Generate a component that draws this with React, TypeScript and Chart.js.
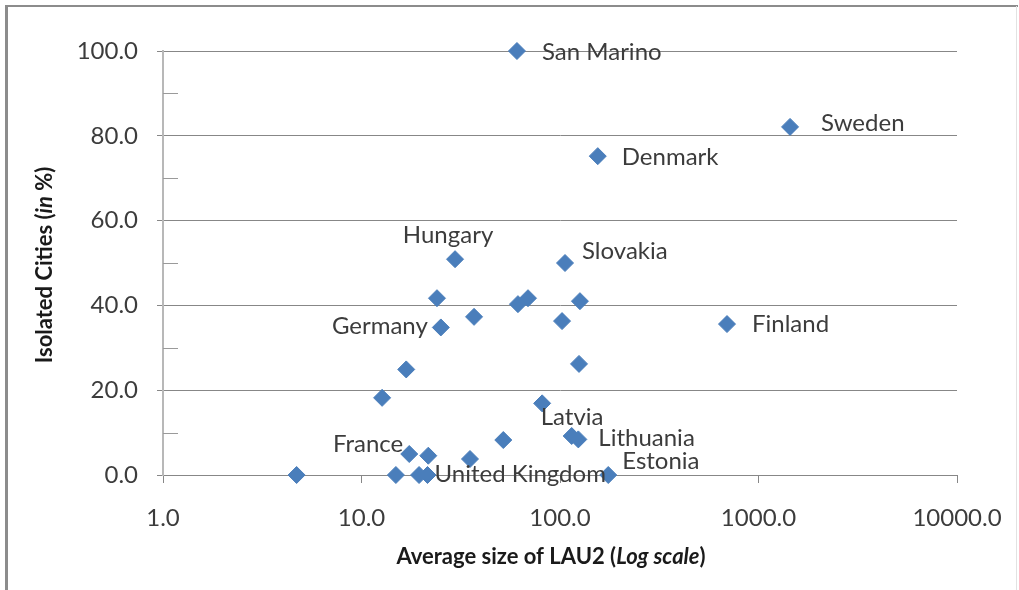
import React, { useEffect, useRef } from "react";
import { Chart, registerables } from "chart.js";

Chart.register(...registerables);

// ---------- data ----------
const countryNames = [
  "San Marino", "Sweden", "Denmark", "Hungary", "Slovakia",
  "", "", "", "", "Germany",
  "", "", "Finland", "", "",
  "", "Latvia", "France", "", "",
  "", "", "Lithuania", "", "",
  "", "United Kingdom", "Estonia",
];
const lau2Size = [
  60.7, 1442, 155, 29.6, 106,
  24, 61.4, 69, 126, 25.1,
  36.9, 102.4, 694, 16.8, 124.7,
  12.7, 81.3, 17.4, 21.7, 35.2,
  51.8, 114.5, 123.7, 4.71, 14.9,
  19.5, 21.5, 175,
];
const isolatedShare = [
  100, 82.1, 75.2, 50.9, 50.0,
  41.7, 40.3, 41.7, 41.0, 34.8,
  37.3, 36.3, 35.6, 24.9, 26.2,
  18.2, 16.9, 4.95, 4.55, 3.77,
  8.25, 9.2, 8.4, 0, 0,
  0, 0, 0,
];
const xTickValues = [1, 10, 100, 1000, 10000];
const yMinorTickValues = [10, 30, 50, 70, 90];
const xTitleParts = [
  { text: "Average size of LAU2 (", italic: false },
  { text: "Log scale", italic: true },
  { text: ")", italic: false },
];
const yTitleParts = [
  { text: "Isolated Cities (", italic: false },
  { text: "in", italic: true },
  { text: " %)", italic: false },
];

// ---------- styles ----------
const FONT = "Lato";
const TEXT_COLOR = "#3c3c3c";
const GRID_COLOR = "#878787";
const MARKER_COLOR = "#4a7ebb";

const labelPlacement: Record<string, { dx: number; dy: number; align: CanvasTextAlign }> = {
  "San Marino": { dx: 25, dy: 1, align: "left" },
  Sweden: { dx: 31, dy: -4, align: "left" },
  Denmark: { dx: 24, dy: 1, align: "left" },
  Hungary: { dx: -7, dy: -24, align: "center" },
  Slovakia: { dx: 17, dy: -12, align: "left" },
  Germany: { dx: -13, dy: -1, align: "right" },
  Finland: { dx: 25, dy: 0, align: "left" },
  Latvia: { dx: 30, dy: 14, align: "center" },
  France: { dx: -6, dy: -10, align: "right" },
  Lithuania: { dx: 20, dy: -1, align: "left" },
  Estonia: { dx: 14, dy: -14, align: "left" },
  "United Kingdom": { dx: 7, dy: -1, align: "left" },
};

const framePlugin = {
  id: "frame",
  beforeDraw(chart: any) {
    const ctx = chart.ctx;
    ctx.save();
    ctx.fillStyle = "#ffffff";
    ctx.fillRect(0, 0, chart.width, chart.height);
    ctx.strokeStyle = "#8c8c8c";
    ctx.lineWidth = 3;
    ctx.beginPath();
    ctx.moveTo(6.5, 5);
    ctx.lineTo(6.5, chart.height);
    ctx.stroke();
    ctx.lineWidth = 2;
    ctx.beginPath();
    ctx.moveTo(5, 6);
    ctx.lineTo(1018, 6);
    ctx.stroke();
    ctx.strokeStyle = "#e2e2e2";
    ctx.lineWidth = 1;
    ctx.beginPath();
    ctx.moveTo(1016.5, 6);
    ctx.lineTo(1016.5, chart.height);
    ctx.stroke();
    ctx.restore();
  },
};

const minorTickPlugin = {
  id: "minorTicks",
  afterDraw(chart: any) {
    const ctx = chart.ctx;
    const y = chart.scales.y;
    const left = chart.chartArea.left;
    ctx.save();
    ctx.strokeStyle = "#9a9a9a";
    ctx.lineWidth = 1;
    yMinorTickValues.forEach((v) => {
      const py = Math.round(y.getPixelForValue(v)) + 0.5;
      ctx.beginPath();
      ctx.moveTo(left, py);
      ctx.lineTo(left + 15, py);
      ctx.stroke();
    });
    ctx.restore();
  },
};

const dataLabelPlugin = {
  id: "dataLabels",
  afterDatasetsDraw(chart: any) {
    const ctx = chart.ctx;
    const meta = chart.getDatasetMeta(0);
    ctx.save();
    ctx.font = `24px ${FONT}`;
    ctx.fillStyle = TEXT_COLOR;
    ctx.textBaseline = "middle";
    countryNames.forEach((name, i) => {
      if (!name) return;
      const p = labelPlacement[name];
      const el = meta.data[i];
      if (!p || !el) return;
      ctx.textAlign = p.align;
      ctx.fillText(name, el.x + p.dx, el.y + p.dy);
    });
    ctx.restore();
  },
};

function drawParts(ctx: CanvasRenderingContext2D, parts: { text: string; italic: boolean }[], cx: number, cy: number) {
  const fontFor = (italic: boolean) => `${italic ? "italic " : ""}bold 22px ${FONT}`;
  let total = 0;
  const widths = parts.map((p) => {
    ctx.font = fontFor(p.italic);
    const w = ctx.measureText(p.text).width;
    total += w;
    return w;
  });
  let x = cx - total / 2;
  ctx.textAlign = "left";
  ctx.textBaseline = "middle";
  parts.forEach((p, i) => {
    ctx.font = fontFor(p.italic);
    ctx.fillText(p.text, x, cy);
    x += widths[i];
  });
}

const axisTitlePlugin = {
  id: "axisTitles",
  afterDraw(chart: any) {
    const ctx = chart.ctx;
    ctx.save();
    ctx.fillStyle = "#1a1a1a";
    drawParts(ctx, xTitleParts, 551, 557);
    ctx.translate(45, 265);
    ctx.rotate(-Math.PI / 2);
    drawParts(ctx, yTitleParts, 0, 0);
    ctx.restore();
  },
};

export default function App() {
  const canvasRef = useRef<HTMLCanvasElement | null>(null);

  useEffect(() => {
    if (!canvasRef.current) return;
    Chart.defaults.font.family = FONT;
    const points = lau2Size.map((x, i) => ({ x, y: isolatedShare[i] }));
    const chart = new Chart(canvasRef.current, {
      type: "scatter",
      data: {
        datasets: [
          {
            data: points,
            pointStyle: "rectRot",
            pointRadius: 8.5,
            pointHoverRadius: 8.5,
            backgroundColor: MARKER_COLOR,
            borderColor: MARKER_COLOR,
            borderWidth: 1,
            clip: false,
          },
        ],
      },
      options: {
        responsive: false,
        animation: false,
        events: [],
        layout: { padding: { left: 0, right: 62, top: 51, bottom: 0 } },
        plugins: {
          legend: { display: false },
          tooltip: { enabled: false },
        },
        scales: {
          x: {
            type: "logarithmic",
            min: 1,
            max: 10000,
            afterBuildTicks: (scale: any) => {
              scale.ticks = xTickValues.map((v) => ({ value: v, major: true }));
            },
            afterFit: (scale: any) => {
              scale.height = 590 - 475;
              scale.paddingLeft = 0;
              scale.paddingRight = 0;
            },
            ticks: {
              color: TEXT_COLOR,
              font: { size: 24, family: FONT },
              padding: 21,
              maxRotation: 0,
              autoSkip: false,
              callback: (v: any) => Number(v).toFixed(1),
            },
            grid: {
              drawOnChartArea: false,
              drawTicks: true,
              tickLength: 8,
              color: GRID_COLOR,
              lineWidth: 1,
            },
            border: { color: GRID_COLOR, width: 1 },
          },
          y: {
            min: 0,
            max: 100,
            afterFit: (scale: any) => {
              scale.width = 163;
              scale.paddingTop = 0;
              scale.paddingBottom = 0;
            },
            ticks: {
              stepSize: 20,
              color: TEXT_COLOR,
              font: { size: 24, family: FONT },
              padding: 19,
              callback: (v: any) => Number(v).toFixed(1),
            },
            grid: {
              drawTicks: true,
              tickLength: 6,
              color: GRID_COLOR,
              lineWidth: 1,
            },
            border: { color: "#b8b8b8", width: 2 },
          },
        },
      },
      plugins: [framePlugin, minorTickPlugin, dataLabelPlugin, axisTitlePlugin],
    });
    return () => chart.destroy();
  }, []);

  return (
    <div style={{ position: "fixed", left: 0, top: 0, width: 1019, height: 590, background: "#fff" }}>
      <canvas ref={canvasRef} width={1019} height={590} style={{ display: "block", width: 1019, height: 590 }} />
    </div>
  );
}
